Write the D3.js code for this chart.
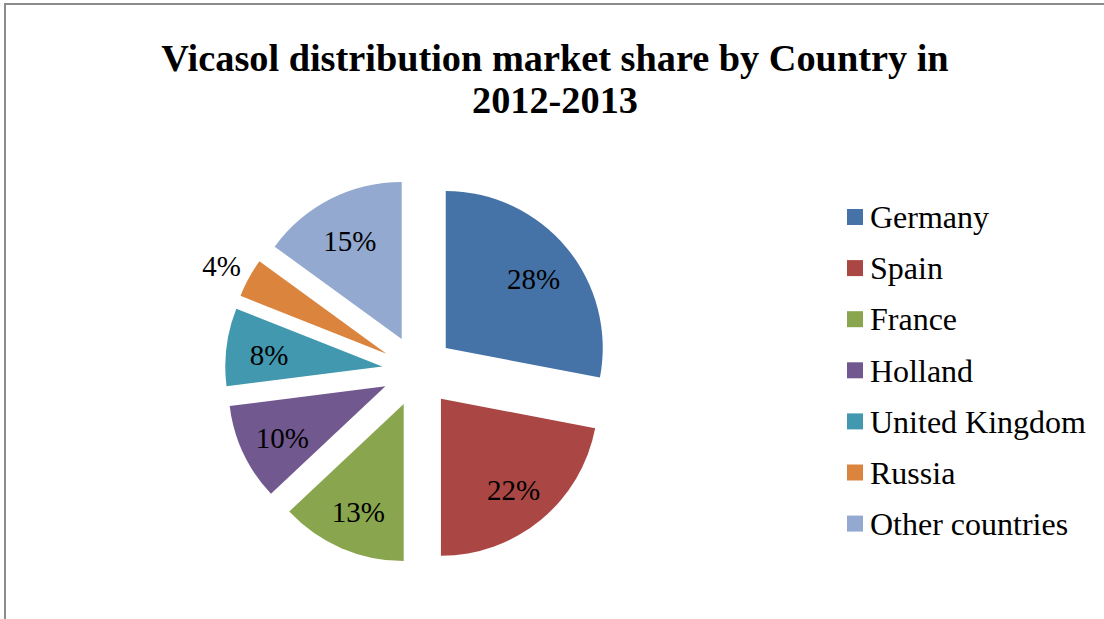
<!DOCTYPE html>
<html lang="en">
<head>
<meta charset="utf-8">
<title>Vicasol market share</title>
<script src="https://d3js.org/d3.v7.min.js"></script>
<style>
  body { margin: 0; background: #fff; }
  svg text { font-family: "Liberation Serif", "Times New Roman", serif; fill: #000; }
</style>
</head>
<body>
<script>
// data
var countries = ["Germany", "Spain", "France", "Holland", "United Kingdom", "Russia", "Other countries"];
var shares = [28, 22, 13, 10, 8, 4, 15];
var colors = ["#4572A7", "#AA4643", "#89A54E", "#71588F", "#4198AF", "#DB843D", "#93A9CF"];
var titleLines = ["Vicasol distribution market share by Country in", "2012-2013"];

var width = 1104, height = 619;
var cx = 418, cy = 371, r = 157, explode = 36;

var svg = d3.select("body").append("svg")
  .attr("width", width)
  .attr("height", height);

// chart frame (only top/left edges show in the picture)
svg.append("rect")
  .attr("x", 5).attr("y", 4)
  .attr("width", width + 20).attr("height", height + 20)
  .attr("fill", "none")
  .attr("stroke", "#8c8c8c")
  .attr("stroke-width", 2);

// title
svg.selectAll(".title")
  .data(titleLines)
  .enter().append("text")
  .attr("class", "title")
  .attr("x", 555)
  .attr("y", function(d, i) { return 71 + i * 42; })
  .attr("text-anchor", "middle")
  .style("font-size", "38.3px")
  .style("font-weight", "bold")
  .text(function(d) { return d; });

var pie = d3.pie().sort(null).value(function(d) { return d; });
var arcs = pie(shares);
var arc = d3.arc().innerRadius(0).outerRadius(r);

var g = svg.append("g").attr("transform", "translate(" + cx + "," + cy + ")");

function mid(d) { return (d.startAngle + d.endAngle) / 2; }

var slice = g.selectAll(".slice")
  .data(arcs)
  .enter().append("g")
  .attr("class", "slice")
  .attr("transform", function(d) {
    var a = mid(d);
    return "translate(" + (Math.sin(a) * explode) + "," + (-Math.cos(a) * explode) + ")";
  });

slice.append("path")
  .attr("d", arc)
  .attr("fill", function(d, i) { return colors[i]; });

slice.append("text")
  .attr("x", function(d) {
    var lr = d.value < 5 ? 188 : 114;
    return Math.sin(mid(d)) * lr;
  })
  .attr("y", function(d) {
    var lr = d.value < 5 ? 188 : 114;
    return -Math.cos(mid(d)) * lr + 3;
  })
  .attr("dy", "0.35em")
  .attr("text-anchor", "middle")
  .style("font-size", "29px")
  .text(function(d) { return d.value + "%"; });

// legend
var legend = svg.selectAll(".legend")
  .data(countries)
  .enter().append("g")
  .attr("class", "legend")
  .attr("transform", function(d, i) { return "translate(847," + (217 + i * 51.1) + ")"; });

legend.append("rect")
  .attr("x", 0).attr("y", -8)
  .attr("width", 16).attr("height", 16)
  .attr("fill", function(d, i) { return colors[i]; });

legend.append("text")
  .attr("x", 23)
  .attr("dy", "0.35em")
  .style("font-size", "32px")
  .text(function(d) { return d; });
</script>
</body>
</html>
